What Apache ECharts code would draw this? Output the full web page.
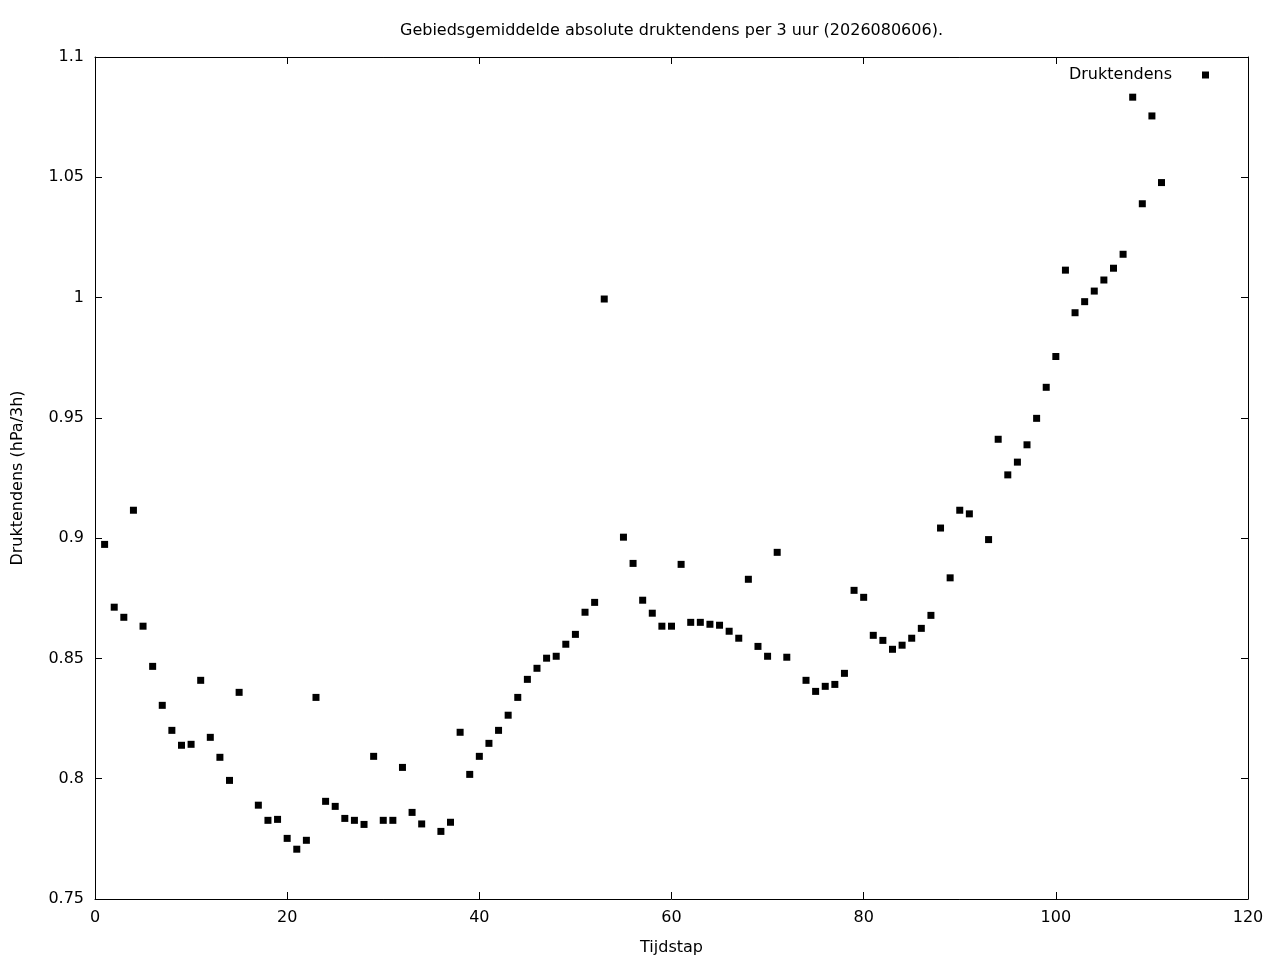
<!DOCTYPE html>
<html>
<head>
<meta charset="utf-8">
<script src="https://cdn.jsdelivr.net/npm/echarts@6/dist/echarts.min.js"></script>
<style>html,body{margin:0;padding:0;background:#fff}#c{width:1280px;height:960px}</style>
</head>
<body>
<div id="c"></div>
<script>
// Timesteps (gaps at 16, 35, 54, 73, 92 are missing in the reference)
const steps = [1,2,3,4,5,6,7,8,9,10,11,12,13,14,15,17,18,19,20,21,22,23,24,25,26,27,28,29,30,31,32,33,34,36,37,38,39,40,41,42,43,44,45,46,47,48,49,50,51,52,53,55,56,57,58,59,60,61,62,63,64,65,66,67,68,69,70,71,72,74,75,76,77,78,79,80,81,82,83,84,85,86,87,88,89,90,91,93,94,95,96,97,98,99,100,101,102,103,104,105,106,107,108,109,110,111];
const tendency = [0.8974,0.8713,0.8671,0.9116,0.8634,0.8467,0.8305,0.8201,0.8139,0.8143,0.8409,0.8172,0.8089,0.7993,0.8359,
  0.7890,0.7827,0.7831,0.7752,0.7707,0.7744,0.8338,0.7906,0.7885,0.7835,0.7827,0.7810,0.8093,0.7827,0.7827,0.8047,0.7860,0.7812,
  0.7781,0.7819,0.8193,0.8018,0.8093,0.8147,0.8201,0.8264,0.8338,0.8413,0.8459,0.8501,0.8509,0.8559,0.8600,0.8692,0.8733,0.9994,
  0.9004,0.8895,0.8742,0.8688,0.8634,0.8634,0.8891,0.8650,0.8650,0.8642,0.8638,0.8613,0.8584,0.8829,0.8550,0.8509,0.8941,0.8505,
  0.8409,0.8363,0.8384,0.8392,0.8438,0.8783,0.8754,0.8596,0.8575,0.8538,0.8555,0.8584,0.8625,0.8679,0.9042,0.8835,0.9116,0.9101,
  0.8994,0.9411,0.9263,0.9316,0.9388,0.9498,0.9627,0.9755,1.0114,0.9937,0.9983,1.0027,1.0073,1.0122,1.0180,1.0833,1.0390,1.0755,1.0478];
const xTicks = [0,20,40,60,80,100,120];
const yTicks = [0.75,0.8,0.85,0.9,0.95,1,1.05,1.1];
const seriesName = 'Druktendens';
const titleText = 'Gebiedsgemiddelde absolute druktendens per 3 uur (2026080606).';
const xName = 'Tijdstap';
const yName = 'Druktendens (hPa/3h)';

const data = steps.map((s, i) => [s, tendency[i]]);
const font = 'DejaVu Sans';
const fs = 16;
const gridL = 95, gridR = 32;
const tick = {show: true, inside: true, length: 7, lineStyle: {color: '#000', width: 1}};
const line = {show: true, onZero: false, lineStyle: {color: '#000', width: 1}};

const chart = echarts.init(document.getElementById('c'));
chart.setOption({
  animation: false,
  backgroundColor: '#fff',
  textStyle: {fontFamily: font},
  graphic: [{
    type: 'text', x: gridL + (1280 - gridL - gridR) / 2, y: 31,
    style: {text: titleText, fontFamily: font, fontSize: fs, fill: '#000',
      textAlign: 'center', textVerticalAlign: 'middle'}
  }],
  legend: {
    data: [{name: seriesName, icon: 'rect'}],
    right: 66, top: 62, align: 'right',
    itemWidth: 7, itemHeight: 7,
    textStyle: {fontFamily: font, fontSize: fs, color: '#000', padding: [0, 25, 0, 0]}
  },
  grid: {left: gridL, right: gridR, top: 57, bottom: 61, containLabel: false, outerBoundsMode: 'none'},
  xAxis: [
    {type: 'value', min: xTicks[0], max: xTicks[xTicks.length-1], interval: 20,
      name: xName, nameLocation: 'middle', nameGap: 41,
      nameTextStyle: {fontFamily: font, fontSize: fs, color: '#000'},
      axisLine: line, axisTick: tick, splitLine: {show: false},
      axisLabel: {fontFamily: font, fontSize: fs, color: '#000', margin: 11}},
    {type: 'value', position: 'top', min: xTicks[0], max: xTicks[xTicks.length-1], interval: 20,
      axisLine: line, axisTick: tick, splitLine: {show: false}, axisLabel: {show: false}}
  ],
  yAxis: [
    {type: 'value', min: yTicks[0], max: yTicks[yTicks.length-1], interval: 0.05,
      name: yName, nameLocation: 'middle', nameGap: 69,
      nameTextStyle: {fontFamily: font, fontSize: fs, color: '#000'},
      axisLine: line, axisTick: tick, splitLine: {show: false},
      axisLabel: {fontFamily: font, fontSize: fs, color: '#000', margin: 11,
        formatter: v => String(parseFloat(v.toFixed(2)))}},
    {type: 'value', position: 'right', min: yTicks[0], max: yTicks[yTicks.length-1], interval: 0.05,
      axisLine: line, axisTick: tick, splitLine: {show: false}, axisLabel: {show: false}}
  ],
  series: [{
    name: seriesName, type: 'scatter', data: data,
    symbol: 'rect', symbolSize: 7,
    itemStyle: {color: '#000', opacity: 1}
  }]
});
</script>
</body>
</html>
